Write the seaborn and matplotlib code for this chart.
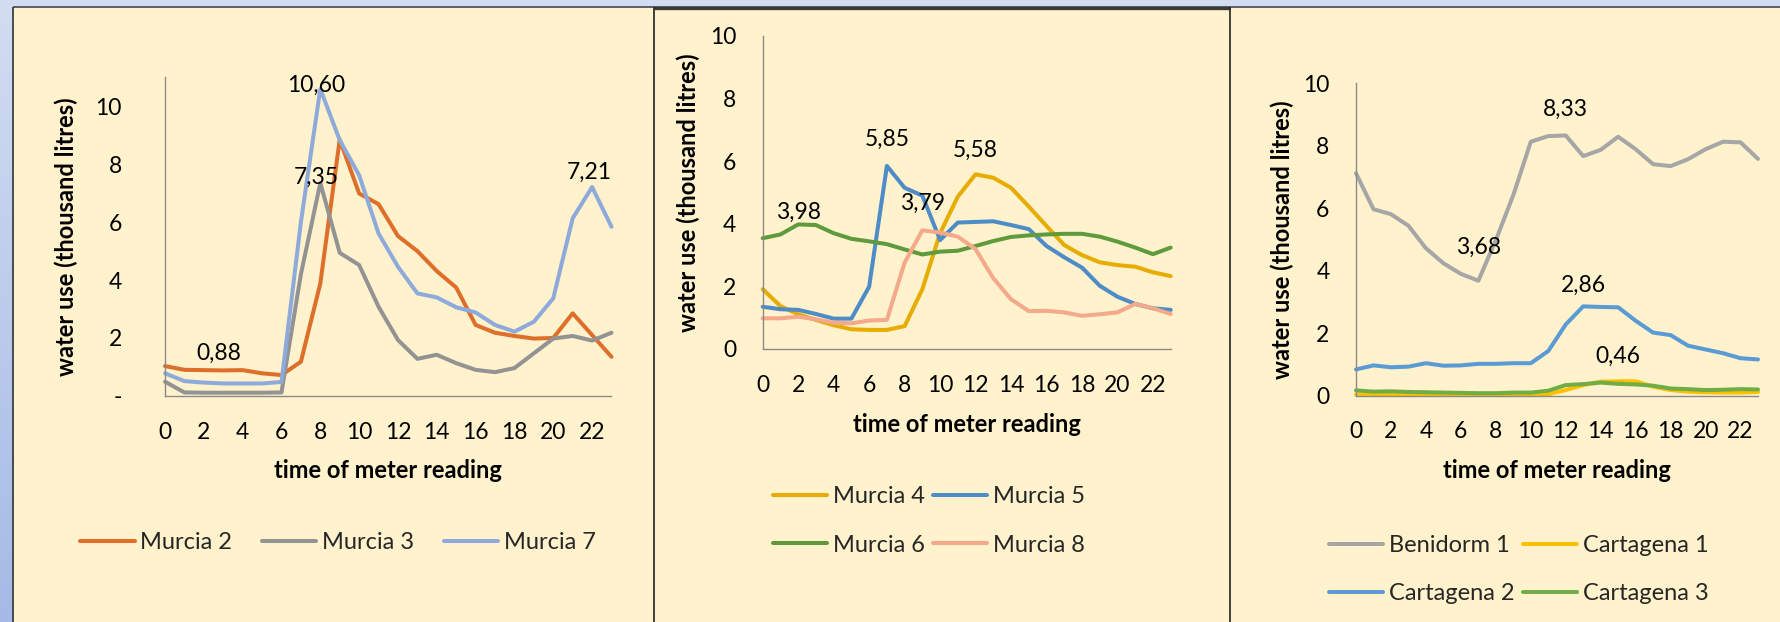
import matplotlib
matplotlib.use("Agg")
import numpy as np
import pandas as pd
import matplotlib.pyplot as plt
from matplotlib.lines import Line2D
from matplotlib.patches import Rectangle
import seaborn as sns

# ---------------------------------------------------------------- data
hours = list(range(24))

murcia_2 = [1.03, 0.90, 0.89, 0.88, 0.89, 0.78, 0.72, 1.18, 3.88, 8.85, 6.99, 6.62,
            5.52, 5.00, 4.31, 3.74, 2.45, 2.18, 2.07, 1.98, 2.00, 2.85, 2.10, 1.35]
murcia_3 = [0.49, 0.12, 0.11, 0.11, 0.11, 0.11, 0.12, 4.20, 7.35, 4.94, 4.52, 3.08,
            1.93, 1.28, 1.42, 1.13, 0.90, 0.82, 0.96, 1.47, 1.98, 2.07, 1.91, 2.18]
murcia_7 = [0.78, 0.51, 0.46, 0.43, 0.43, 0.43, 0.48, 6.00, 10.60, 8.83, 7.62, 5.61,
            4.46, 3.54, 3.40, 3.06, 2.88, 2.45, 2.22, 2.56, 3.37, 6.13, 7.21, 5.84]

murcia_4 = [1.91, 1.37, 1.11, 0.93, 0.76, 0.63, 0.61, 0.61, 0.73, 1.91, 3.70, 4.87,
            5.58, 5.47, 5.15, 4.55, 3.93, 3.32, 3.00, 2.77, 2.68, 2.63, 2.45, 2.33]
murcia_5 = [1.35, 1.27, 1.25, 1.12, 0.97, 0.97, 1.99, 5.85, 5.15, 4.90, 3.48, 4.04,
            4.06, 4.08, 3.96, 3.83, 3.29, 2.93, 2.60, 2.02, 1.67, 1.44, 1.30, 1.25]
murcia_6 = [3.54, 3.66, 3.98, 3.96, 3.70, 3.52, 3.44, 3.35, 3.18, 3.02, 3.11, 3.14,
            3.29, 3.45, 3.58, 3.63, 3.66, 3.68, 3.68, 3.59, 3.43, 3.24, 3.03, 3.24]
murcia_8 = [0.98, 0.98, 1.03, 0.95, 0.84, 0.82, 0.91, 0.93, 2.76, 3.79, 3.72, 3.59,
            3.19, 2.26, 1.59, 1.21, 1.22, 1.17, 1.06, 1.11, 1.17, 1.44, 1.30, 1.12]

benidorm_1 = [7.12, 5.97, 5.81, 5.44, 4.72, 4.24, 3.90, 3.68, 4.98, 6.42, 8.13, 8.31,
              8.33, 7.67, 7.87, 8.29, 7.89, 7.41, 7.35, 7.57, 7.89, 8.13, 8.11, 7.58]
cartagena_1 = [0.04, 0.02, 0.02, 0.02, 0.02, 0.02, 0.02, 0.02, 0.02, 0.02, 0.02, 0.05,
               0.18, 0.34, 0.45, 0.46, 0.46, 0.29, 0.18, 0.13, 0.11, 0.10, 0.10, 0.12]
cartagena_2 = [0.84, 0.97, 0.91, 0.93, 1.04, 0.96, 0.97, 1.02, 1.02, 1.04, 1.04, 1.43,
               2.28, 2.86, 2.84, 2.83, 2.40, 2.02, 1.94, 1.60, 1.48, 1.36, 1.20, 1.16]
cartagena_3 = [0.17, 0.13, 0.14, 0.12, 0.11, 0.10, 0.09, 0.08, 0.08, 0.10, 0.10, 0.16,
               0.34, 0.37, 0.42, 0.38, 0.36, 0.32, 0.23, 0.21, 0.18, 0.19, 0.21, 0.20]

x_label = "time of meter reading"
y_label = "water use (thousand litres)"

# ---------------------------------------------------------------- style
W, H = 1781, 622
sns.set_theme(style="white")
plt.rcParams["font.family"] = ["Lato", "DejaVu Sans"]

AXIS_GREY = "#8A8A8A"
LW = 2.9
FS_TICK = 16.5
FS_NOTE = 16.5
FS_LEG = 17
FS_LAB = 17

fig = plt.figure(figsize=(W / 100, H / 100), dpi=100)
fig.patch.set_facecolor("#CCD9EF")

# backdrop drawn in pixel units
bg = fig.add_axes([0, 0, 1, 1], zorder=-10)
bg.set_xlim(0, W)
bg.set_ylim(H, 0)
bg.axis("off")
top_c = np.array(matplotlib.colors.to_rgb("#D2DDF1"))
bot_c = np.array(matplotlib.colors.to_rgb("#A5BAE6"))
t = np.linspace(0, 1, 200)[:, None, None]
grad = top_c * (1 - t) + bot_c * t
bg.imshow(grad, extent=[0, W, H, 0], aspect="auto", zorder=0)

cream = "#FFF2CC"
for x0, x1 in [(13, 654.5), (654.5, 1230.5), (1230.5, W)]:
    bg.add_patch(Rectangle((x0, 6.5), x1 - x0, H, facecolor=cream, edgecolor="none", zorder=1))
bg.plot([13, W], [7, 7], color="#4F555E", lw=1.3, zorder=2, solid_capstyle="butt")
bg.plot([13, 13], [6.5, H], color="#3C3F44", lw=1.3, zorder=2, solid_capstyle="butt")
bg.plot([654.5, 1230.5], [7.7, 7.7], color="#3A3A3A", lw=2.4, zorder=2, solid_capstyle="butt")
for xv in (654.5, 1230.5):
    bg.plot([xv, xv], [6.5, H], color="#222222", lw=1.2, zorder=2, solid_capstyle="butt")


def fmt(v):
    return f"{v:.2f}".replace(".", ",")


def row_major(items, ncol):
    # matplotlib fills legend columns first; reorder so entries read across rows
    nrow = -(-len(items) // ncol)
    return [items[r * ncol + c] for c in range(ncol) for r in range(nrow)
            if r * ncol + c < len(items)]


panels = [
    dict(rect=(165, 611.5, 395.9, 77.3), ymax=11, ypad=25,
         series=[("Murcia 2", murcia_2, "#DE6F2B"),
                 ("Murcia 3", murcia_3, "#939393"),
                 ("Murcia 7", murcia_7, "#8EAADB")],
         notes=[("Murcia 2", 3, (-4, 17)), ("Murcia 7", 8, (-4, 4)),
                ("Murcia 3", 8, (-4, 6)), ("Murcia 7", 22, (-3, 15))],
         ylab_x=66.5, xlab_y=471, leg=(338, 542.6), ncol=3, colsp=1.25,
         dash_zero=True),
    dict(rect=(762.7, 1170.7, 349, 36), ymax=10, ypad=13,
         series=[("Murcia 4", murcia_4, "#E6AD00"),
                 ("Murcia 5", murcia_5, "#4E8CC8"),
                 ("Murcia 6", murcia_6, "#5F9B3C"),
                 ("Murcia 8", murcia_8, "#F4A98B")],
         notes=[("Murcia 6", 2, (0, 12)), ("Murcia 5", 7, (0, 27)),
                ("Murcia 4", 12, (0, 24)), ("Murcia 8", 9, (0, 27))],
         ylab_x=688, xlab_y=424.4, leg=(929, 521), ncol=2, colsp=0.35,
         dash_zero=False),
    dict(rect=(1356, 1758, 395.7, 83.3), ymax=10, ypad=13,
         series=[("Benidorm 1", benidorm_1, "#A6A6A6"),
                 ("Cartagena 1", cartagena_1, "#FFC000"),
                 ("Cartagena 2", cartagena_2, "#5B9BD5"),
                 ("Cartagena 3", cartagena_3, "#70AD47")],
         notes=[("Benidorm 1", 12, (0, 26)), ("Benidorm 1", 7, (0, 33)),
                ("Cartagena 2", 13, (0, 21)), ("Cartagena 1", 15, (0, 25))],
         ylab_x=1282, xlab_y=471, leg=(1519, 569.5), ncol=2, colsp=0.35,
         dash_zero=False),
]

for p in panels:
    L, R, B, T = p["rect"]
    ax = fig.add_axes([L / W, 1 - B / H, (R - L) / W, (B - T) / H])
    ax.patch.set_alpha(0)

    names = [s[0] for s in p["series"]]
    palette = {s[0]: s[2] for s in p["series"]}
    df = pd.concat([pd.DataFrame({"hour": hours, "use": s[1], "site": s[0]})
                    for s in p["series"]], ignore_index=True)
    sns.lineplot(data=df, x="hour", y="use", hue="site", hue_order=names,
                 palette=palette, linewidth=LW, legend=False, ax=ax, sort=False)
    for ln in ax.lines:
        ln.set_clip_on(False)
        ln.set_solid_joinstyle("round")

    ax.set_xlim(0, 23)
    ax.set_ylim(0, p["ymax"])
    for side in ("top", "right"):
        ax.spines[side].set_visible(False)
    for side in ("left", "bottom"):
        ax.spines[side].set_color(AXIS_GREY)
        ax.spines[side].set_linewidth(1.0)

    ax.set_xticks(hours)
    ax.set_xticklabels([str(h) if h % 2 == 0 else "" for h in hours])
    yt = list(range(0, 11, 2))
    ax.set_yticks(yt)
    ax.set_yticklabels(["-" if (v == 0 and p["dash_zero"]) else str(v) for v in yt])
    ax.tick_params(axis="both", direction="out", length=6, width=1.0,
                   color=AXIS_GREY, labelsize=FS_TICK, labelcolor="black")
    ax.tick_params(axis="x", pad=12.5)
    ax.tick_params(axis="y", pad=p["ypad"])

    ax.set_xlabel(x_label, fontsize=FS_LAB, fontweight="bold", color="black", va="center")
    ax.set_ylabel(y_label, fontsize=FS_LAB, fontweight="bold", color="black", va="center")
    ax.xaxis.set_label_coords(0.5, (B - p["xlab_y"]) / (B - T))
    ax.yaxis.set_label_coords((p["ylab_x"] - L) / (R - L), 0.5)

    lookup = {s[0]: s[1] for s in p["series"]}
    for name, hr, (dx, dy) in p["notes"]:
        v = lookup[name][hr]
        ax.annotate(fmt(v), xy=(hr, v), xytext=(dx, dy), textcoords="offset pixels",
                    ha="center", va="center", fontsize=FS_NOTE, color="black",
                    annotation_clip=False)

    handles = [Line2D([], [], color=s[2], lw=LW) for s in p["series"]]
    lx, ly = p["leg"]
    ax.legend(row_major(handles, p["ncol"]), row_major(names, p["ncol"]),
              loc="center", bbox_to_anchor=(lx / W, 1 - ly / H),
              bbox_transform=fig.transFigure, ncol=p["ncol"], frameon=False,
              fontsize=FS_LEG, handlelength=2.3, handletextpad=0.25,
              columnspacing=p["colsp"], labelspacing=1.15, borderpad=0,
              borderaxespad=0)

fig.savefig("out.png", dpi=100, facecolor=fig.get_facecolor())
